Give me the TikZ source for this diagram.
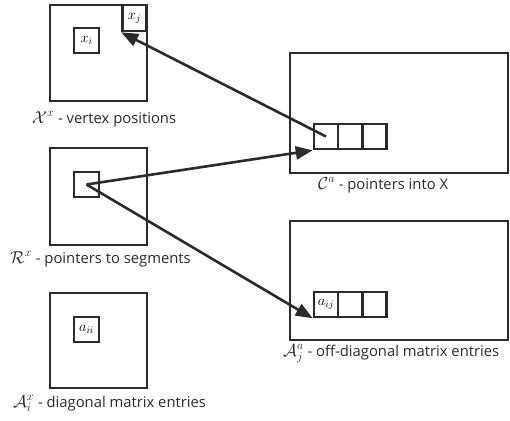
\documentclass[tikz,border=0pt]{standalone}
\usepackage{fontspec}
\setmainfont{Open Sans}
\usetikzlibrary{arrows.meta}
\definecolor{ink}{HTML}{2B2B2B}
\newcommand\capsize{\fontsize{14.8}{17}\selectfont}
\newcommand\symsize{\fontsize{17.5}{20}\selectfont}
\newcommand\cellsize{\fontsize{14}{16}\selectfont}
\tikzset{
  frame/.style={draw=ink, line width=2.6pt, inner sep=0pt},
  cell/.style={draw=ink, line width=2.6pt, inner sep=0pt, minimum width=24pt, minimum height=25pt, font=\cellsize},
  caption/.style={anchor=base west, inner sep=0pt, font=\capsize, text=ink},
  link/.style={draw=ink, line width=2.6pt, -{Triangle[length=17pt,width=13pt]}},
}
\begin{document}
\begin{tikzpicture}[x=1pt,y=-1pt]
\useasboundingbox (0,0) rectangle (510,420);

% vertex positions
\node[frame, minimum width=97pt, minimum height=96pt] (X) at (98.5,53) {};
\node[cell, minimum height=26pt] (xj) at (134.5,18) {\cellsize$x_j$};
\node[cell, minimum width=25pt] (xi) at (86.5,40.5) {\cellsize$x_i$};
\node[caption] (Xl) at (32,123) {{\symsize$\mathcal{X}^x$} - vertex positions};

% pointers to segments
\node[frame, minimum width=97pt, minimum height=97pt] (R) at (98.5,196.5) {};
\node[cell, minimum width=25pt] (r) at (86.5,184.5) {};
\node[caption] (Rl) at (10,263) {{\symsize$\mathcal{R}^x$} - pointers to segments};

% diagonal matrix entries
\node[frame, minimum width=97pt, minimum height=95pt] (Ai) at (98.5,340.5) {};
\node[cell, minimum width=25pt] (aii) at (86.5,329.5) {\cellsize$a_{ii}$};
\node[caption] (Ail) at (13,407) {{\symsize$\mathcal{A}_i^x$} - diagonal matrix entries};

% pointers into X
\node[frame, minimum width=218pt, minimum height=120pt] (C) at (399,113) {};
\node[cell] (c1) at (326,136.5) {};
\node[cell] (c2) at (350,136.5) {};
\node[cell] (c3) at (374.5,136.5) {};
\node[caption] (Cl) at (318,189) {{\symsize$\mathcal{C}^a$} - pointers into X};

% off-diagonal matrix entries
\node[frame, minimum width=218pt, minimum height=119pt] (Aj) at (399,280.5) {};
\node[cell] (a1) at (326,304.5) {\cellsize$a_{ij}$};
\node[cell] (a2) at (350,304.5) {};
\node[cell] (a3) at (374.5,304.5) {};
\node[caption] (Ajl) at (283,356) {{\symsize$\mathcal{A}_j^a$} - off-diagonal matrix entries};

% pointers
\draw[link] (c1.center) -- (xj.south west);
\draw[link] (r.center) -- (c1.south west);
\draw[link] (r.center) -- (a1.south west);
\end{tikzpicture}
\end{document}
